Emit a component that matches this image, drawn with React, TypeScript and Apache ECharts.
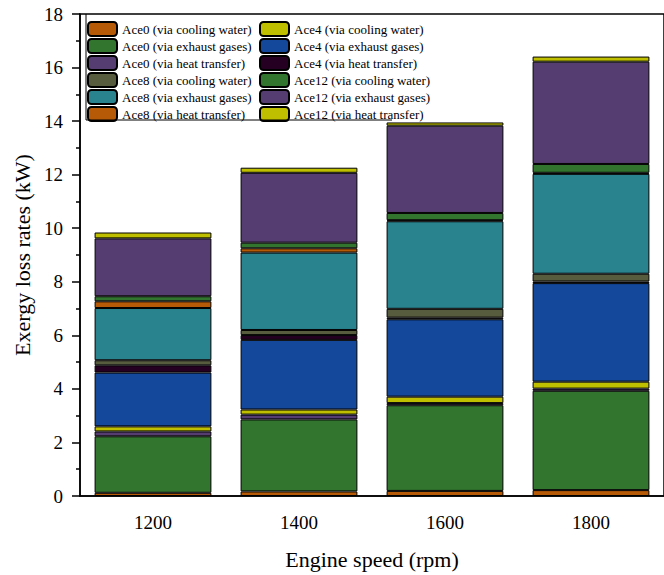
import React, { useEffect, useRef } from "react";
import * as echarts from "echarts";

const categories = ["1200", "1400", "1600", "1800"];

const ace0CoolingWater = [0.12, 0.17, 0.19, 0.22];
const ace0ExhaustGases = [2.11, 2.69, 3.2, 3.71];
const ace0HeatTransfer = [0.18, 0.18, 0.08, 0.08];
const ace4CoolingWater = [0.19, 0.19, 0.24, 0.26];
const ace4ExhaustGases = [2.01, 2.6, 2.89, 3.68];
const ace4HeatTransfer = [0.27, 0.18, 0.06, 0.06];
const ace8CoolingWater = [0.19, 0.19, 0.33, 0.29];
const ace8ExhaustGases = [1.95, 2.89, 3.27, 3.73];
const ace8HeatTransfer = [0.25, 0.16, 0.04, 0.04];
const ace12CoolingWater = [0.19, 0.21, 0.27, 0.33];
const ace12ExhaustGases = [2.16, 2.61, 3.26, 3.82];
const ace12HeatTransfer = [0.22, 0.19, 0.12, 0.19];

const seriesNames = [
  "Ace0 (via cooling water)",
  "Ace0 (via exhaust gases)",
  "Ace0 (via heat transfer)",
  "Ace4 (via cooling water)",
  "Ace4 (via exhaust gases)",
  "Ace4 (via heat transfer)",
  "Ace8 (via cooling water)",
  "Ace8 (via exhaust gases)",
  "Ace8 (via heat transfer)",
  "Ace12 (via cooling water)",
  "Ace12 (via exhaust gases)",
  "Ace12 (via heat transfer)",
];
const seriesData = [
  ace0CoolingWater,
  ace0ExhaustGases,
  ace0HeatTransfer,
  ace4CoolingWater,
  ace4ExhaustGases,
  ace4HeatTransfer,
  ace8CoolingWater,
  ace8ExhaustGases,
  ace8HeatTransfer,
  ace12CoolingWater,
  ace12ExhaustGases,
  ace12HeatTransfer,
];
const seriesColors = [
  "#B65A08",
  "#31752F",
  "#563D71",
  "#BFBF00",
  "#13489B",
  "#250022",
  "#585C3F",
  "#28838F",
  "#B65A08",
  "#31752F",
  "#563D71",
  "#BFBF00",
];

const yTicks = [0, 2, 4, 6, 8, 10, 12, 14, 16, 18];

const FONT = "'Liberation Serif', 'Times New Roman', serif";

export default function App() {
  const ref = useRef<HTMLDivElement>(null);
  useEffect(() => {
    if (!ref.current) return;
    const chart = echarts.init(ref.current, null, { renderer: "svg" });
    const legendText = { fontFamily: FONT, fontSize: 13, color: "#000", lineHeight: 14 };
    chart.setOption({
      animation: false,
      grid: {
        left: 80,
        top: 14,
        width: 594,
        height: 485,
        show: true,
        borderColor: "#000",
        borderWidth: 1.5,
        backgroundColor: "transparent",
      },
      legend: [
        {
          orient: "vertical",
          left: 87,
          top: 21,
          itemWidth: 29,
          itemHeight: 14,
          itemGap: 1,
          padding: 0,
          textStyle: legendText,
          data: seriesNames.slice(0, 3).concat(seriesNames.slice(6, 9)),
        },
        {
          orient: "vertical",
          left: 259,
          top: 21,
          itemWidth: 29,
          itemHeight: 14,
          itemGap: 1,
          padding: 0,
          textStyle: legendText,
          data: seriesNames.slice(3, 6).concat(seriesNames.slice(9, 12)),
        },
      ],
      xAxis: [
        {
          type: "category",
          data: categories,
          name: "Engine speed (rpm)",
          nameLocation: "middle",
          nameGap: 52,
          nameTextStyle: { fontFamily: FONT, fontSize: 22, color: "#000" },
          axisLine: { lineStyle: { color: "#000", width: 1.5 } },
          axisTick: { alignWithLabel: true, length: 5, lineStyle: { color: "#000", width: 1.5 } },
          axisLabel: { fontFamily: FONT, fontSize: 19, color: "#000", margin: 17 },
          splitLine: { show: false },
        },
        {
          type: "category",
          data: categories,
          position: "bottom",
          axisLine: { show: false },
          axisTick: { length: 4, lineStyle: { color: "#000", width: 1.5 } },
          axisLabel: { show: false },
          splitLine: { show: false },
        },
      ],
      yAxis: {
        type: "value",
        min: 0,
        max: 18,
        interval: 2,
        name: "Exergy loss rates (kW)",
        nameLocation: "middle",
        nameGap: 40,
        nameTextStyle: { fontFamily: FONT, fontSize: 22, color: "#000" },
        axisLine: { show: true, lineStyle: { color: "#000", width: 1.5 } },
        axisTick: { show: true, length: 8, lineStyle: { color: "#000", width: 1.5 } },
        minorTick: { show: true, splitNumber: 2, length: 4, lineStyle: { color: "#000", width: 1.5 } },
        axisLabel: {
          fontFamily: FONT,
          fontSize: 19,
          color: "#000",
          margin: 17,
          formatter: (v: number) => (yTicks.indexOf(v) >= 0 ? String(v) : ""),
        },
        splitLine: { show: false },
      },
      series: seriesNames.map((name, i) => ({
        name,
        type: "bar",
        stack: "total",
        barWidth: "80%",
        data: seriesData[i],
        itemStyle: { color: seriesColors[i], borderColor: "#000", borderWidth: 1 },
      })),
      graphic: [
        {
          type: "polyline",
          shape: { points: [[86, 14], [86, 120], [392, 120]] },
          style: { stroke: "#000", lineWidth: 1, fill: "none" },
          z: 100,
        },
      ],
    });
    return () => chart.dispose();
  }, []);
  return (
    <div
      ref={ref}
      style={{ position: "fixed", left: 0, top: 0, width: 664, height: 575, background: "#fff" }}
    />
  );
}
